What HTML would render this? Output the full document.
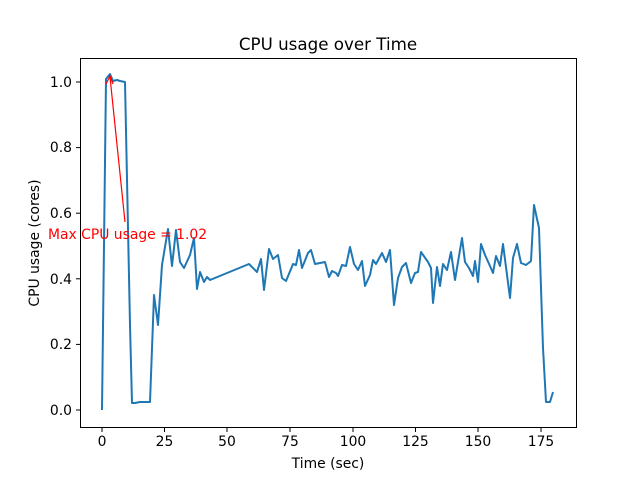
<!DOCTYPE html>
<html><head><meta charset="utf-8"><style>body{margin:0;background:#fff}</style></head><body>
<svg width="640" height="480" xmlns="http://www.w3.org/2000/svg" font-family="DejaVu Sans, Liberation Sans, sans-serif">
<rect width="640" height="480" fill="#fff"/>
<text x="328" y="50" font-size="16.7" text-anchor="middle">CPU usage over Time</text>
<polyline fill="none" stroke="#1f77b4" stroke-width="2" stroke-linejoin="round" points="102,410 106,79 110,74 113,81 117,80 120,81 125,82 130,325 132,403 135,403 140,402 150,402 154,295 158,325 162,265 168,229 172,266 176,230 180,262 184,268 190,255 194,238 197,289 200,272 204,282 207,277 210,280 249,264 257,272 261,259 264,290 269,249 273,259 278,255 282,278 286,281 291,269 293,264 296,265 299,250 302,268 308,253 311,250 315,264 325,262 329,277 332,271 336,273 338,276 342,265 346,266 350,247 354,264 358,270 362,261 365,286 370,275 373,260 376,264 382,253 386,262 390,250 394,305 398,278 402,267 406,263 411,283 415,273 418,272 421,252 428,262 431,268 433,303 437,267 440,286 443,264 447,270 451,252 455,280 458,262 462,238 465,262 469,268 473,276 475,261 478,282 481,244 485,255 490,266 493,273 496,256 500,266 503,244 510,298 513,258 517,244 521,263 526,265 531,261 534,205 539,228 543,348 546,402 550,402 553,392"/>
<line x1="125" y1="222" x2="110" y2="77" stroke="red" stroke-width="1.2"/>
<polyline points="106,84 110,76 113,84" fill="none" stroke="red" stroke-width="1.2"/>
<text x="48" y="239" font-size="13.9" fill="red">Max CPU usage = 1.02</text>
<rect x="80.5" y="58.5" width="496" height="369" fill="none" stroke="#000" stroke-width="1"/>
<g stroke="#000" stroke-width="1">
<line x1="102" y1="428" x2="102" y2="432"/><line x1="227" y1="428" x2="227" y2="432"/><line x1="353" y1="428" x2="353" y2="432"/><line x1="478" y1="428" x2="478" y2="432"/>
<line x1="164.5" y1="428" x2="164.5" y2="432"/><line x1="290" y1="428" x2="290" y2="432"/><line x1="415.5" y1="428" x2="415.5" y2="432"/><line x1="541" y1="428" x2="541" y2="432"/>
<line x1="76" y1="410" x2="80" y2="410"/><line x1="76" y1="344.4" x2="80" y2="344.4"/><line x1="76" y1="278.8" x2="80" y2="278.8"/><line x1="76" y1="213.2" x2="80" y2="213.2"/><line x1="76" y1="147.6" x2="80" y2="147.6"/><line x1="76" y1="82" x2="80" y2="82"/>
</g>
<g font-size="13.9" text-anchor="middle">
<text x="102" y="446">0</text><text x="164.5" y="446">25</text><text x="227" y="446">50</text><text x="290" y="446">75</text><text x="353" y="446">100</text><text x="415.5" y="446">125</text><text x="478" y="446">150</text><text x="541" y="446">175</text>
</g>
<g font-size="13.9" text-anchor="end">
<text x="72" y="415">0.0</text><text x="72" y="349">0.2</text><text x="72" y="284">0.4</text><text x="72" y="218">0.6</text><text x="72" y="152">0.8</text><text x="72" y="87">1.0</text>
</g>
<text x="328" y="468" font-size="13.9" text-anchor="middle">Time (sec)</text>
<text transform="translate(39,243) rotate(-90)" font-size="13.9" text-anchor="middle">CPU usage (cores)</text>
</svg>
</body></html>
